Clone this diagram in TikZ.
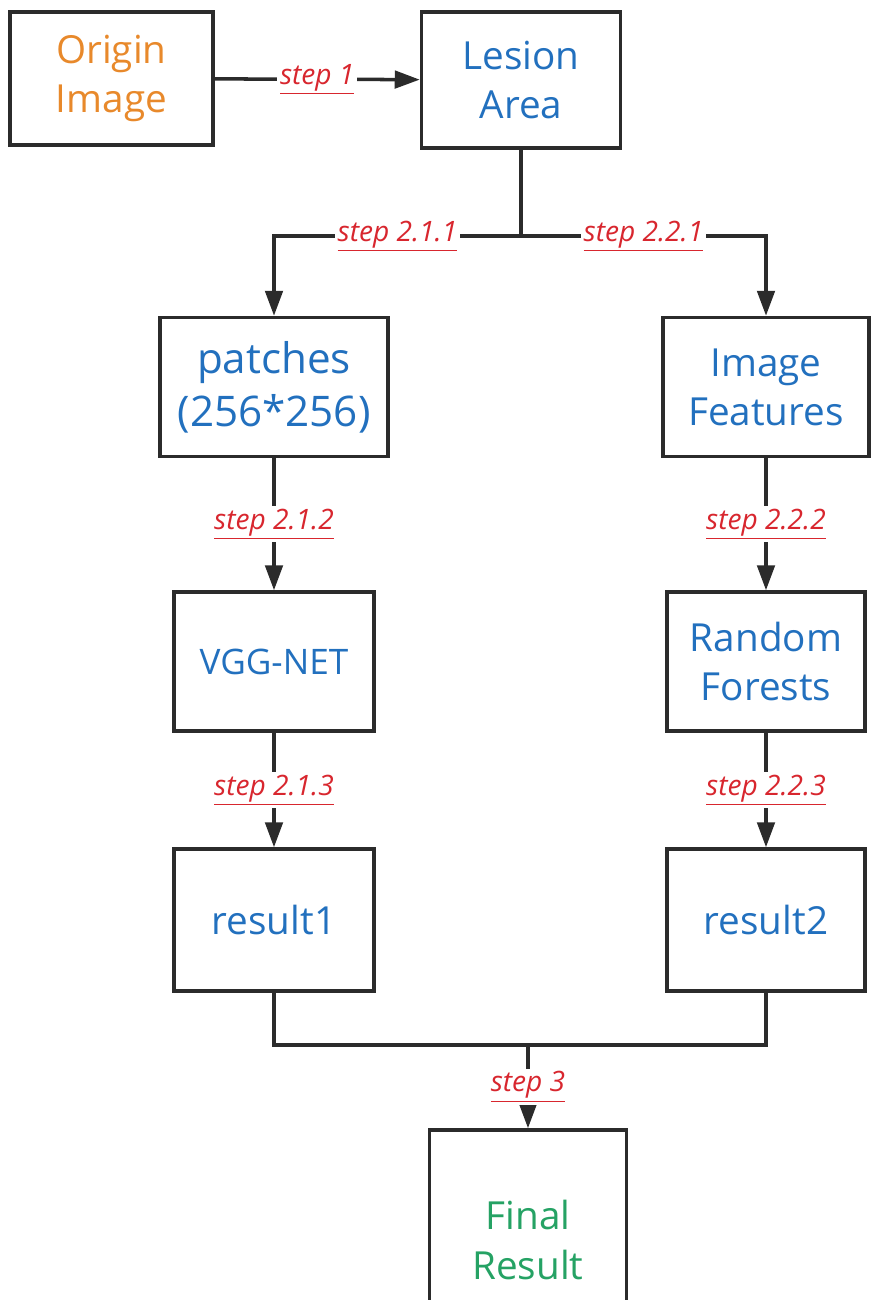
\documentclass[tikz,border=0pt]{standalone}
\usepackage{fontspec}
\setmainfont{Open Sans}
\usetikzlibrary{positioning, arrows.meta}
\definecolor{origcol}{HTML}{E8892B}
\definecolor{boxblue}{HTML}{2270BE}
\definecolor{finalgreen}{HTML}{25A264}
\definecolor{stepred}{HTML}{D8262E}
\definecolor{linegray}{HTML}{2B2B2B}

\begin{document}
\begin{tikzpicture}[x=0.2mm, y=-0.2mm, line width=2pt, draw=linegray,
    >={Triangle[length=5mm, width=3.5mm]},
    main/.style = {draw, rectangle, align=center, inner sep=0pt,
                   minimum width=40mm, minimum height=27.8mm,
                   text=boxblue, font=\fontsize{22}{28}\selectfont},
    steplabel/.style = {fill=white, inner sep=1.5pt, text=stepred,
                        font=\fontsize{16}{18}\selectfont\itshape}]
        \useasboundingbox (0,0) rectangle (871,1300);

        \node[main, text=origcol, minimum width=40.6mm, minimum height=26.6mm] (origin) at (111.5,78.5) {Origin\\Image};
        \node[main, minimum width=39.8mm, minimum height=27.2mm] (lesion) at (521,80) {Lesion\\Area};

        \node[main, minimum width=45.6mm, font=\fontsize{24}{30}\selectfont] (patches) at (274,387) {patches\\(256*256)};
        \node[main, minimum width=41.2mm] (features) at (766,387) {Image\\Features};

        \node[main, font=\fontsize{20}{26}\selectfont] (vgg) at (274,661.5) {VGG-NET};
        \node[main, minimum width=39.6mm] (forests) at (766,661.5) {Random\\Forests};

        \node[main, minimum height=28.4mm] (result1) at (274,920) {result1};
        \node[main, minimum width=39.6mm, minimum height=28.4mm] (result2) at (766,920) {result2};

        \node[main, text=finalgreen, minimum width=39.4mm, minimum height=44mm] (final) at (528,1240) {Final\\Result};

        \coordinate (split) at (521,236);
        \coordinate (join) at (528,1045);

        \draw[->] (origin) -- node[steplabel] {\underline{step 1}} (lesion);
        \draw (lesion) -- (split);
        \draw[->] (split) -| node[steplabel, pos=0.25] {\underline{step 2.1.1}} (patches);
        \draw[->] (split) -| node[steplabel, pos=0.25] {\underline{step 2.2.1}} (features);

        \draw[->] (patches) -- node[steplabel] {\underline{step 2.1.2}} (vgg);
        \draw[->] (vgg) -- node[steplabel] {\underline{step 2.1.3}} (result1);
        \draw[->] (features) -- node[steplabel] {\underline{step 2.2.2}} (forests);
        \draw[->] (forests) -- node[steplabel] {\underline{step 2.2.3}} (result2);

        \draw (result1) |- (join) -| (result2);
        \draw[->] (join) -- node[steplabel] {\underline{step 3}} (final);
    \end{tikzpicture}
\end{document}
